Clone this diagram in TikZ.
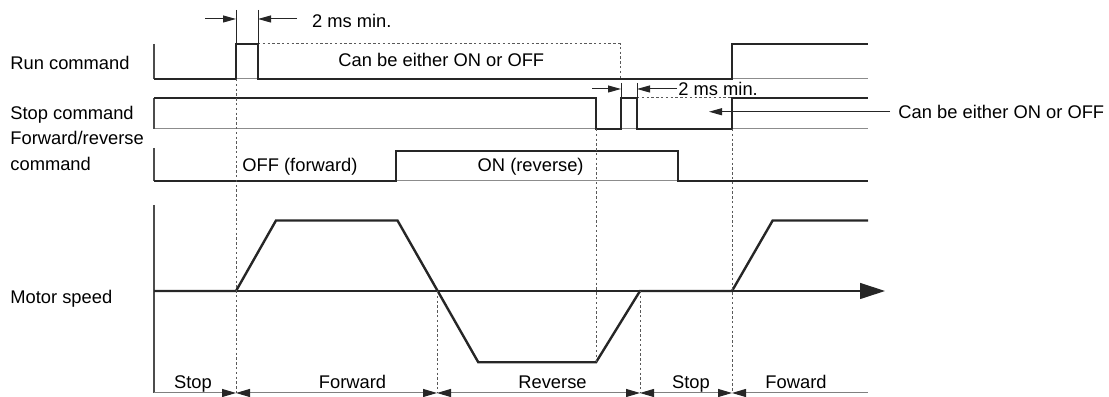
\documentclass[tikz,border=0pt]{standalone}
\usepackage{fontspec}
\setmainfont{Liberation Sans}
\usetikzlibrary{arrows.meta}

\begin{document}
\begin{tikzpicture}[
        x=0.5bp, y=-0.5bp,
        every node/.style={font=\fontsize{9.2}{13}\selectfont, inner sep=0pt},
        lbl/.style={anchor=base west},
        phaselbl/.style={anchor=base},
        signal/.style={line width=1.2bp, draw=black!85, line join=miter},
        base/.style={line width=0.5bp, draw=black!45},
        frame/.style={line width=0.6bp, draw=black!70},
        guide/.style={line width=0.5bp, draw=black!65, dash pattern=on 1.2bp off 1.2bp},
        dim/.style={line width=0.5bp, draw=black!85},
        tip/.style={-{Triangle[length=6.5bp, width=3.5bp]}},
        phase/.style={line width=0.5bp, draw=black!50, >={Triangle[length=7bp, width=4bp, color=black!85]}},
        axis/.style={line width=0.6bp, draw=black!85, -{Triangle[length=12.5bp, width=8bp]}}
    ]
        \useasboundingbox (0,0) rectangle (1109,397);

        % signal names
        \node[lbl] (run) at (10,69.5) {Run command};
        \node[lbl] (stop) at (10,120) {Stop command};
        \node[lbl] (fwdrev) at (10,144.5) {Forward/reverse};
        \node[lbl] (fwdrev2) at (10,170.5) {command};
        \node[lbl] (speed) at (10,304) {Motor speed};

        % run command
        \draw[base] (154,79) -- (868,79);
        \draw[frame] (154,44) -- (154,79);
        \draw[signal] (154,79) -- (236,79) -- (236,44) -- (258,44) -- (258,79) -- (732,79) -- (732,44) -- (868,44);
        \draw[guide] (258,44) -- (620,44) -- (620,79);
        \node[lbl] (eitherrun) at (338,66.7) {Can be either ON or OFF};

        % 2 ms min. (run)
        \draw[dim] (236,10) -- (236,44);
        \draw[dim] (258,10) -- (258,44);
        \draw[dim, tip] (205,19) -- (236,19);
        \draw[dim, tip] (297,19) -- (258,19);
        \node[lbl] (minrun) at (311.7,27.3) {2 ms min.};

        % stop command
        \draw[base] (154,129) -- (868,129);
        \draw[frame] (154,98) -- (154,129);
        \draw[signal] (154,98) -- (596,98) -- (596,129) -- (621,129) -- (621,98) -- (637,98) -- (637,129) -- (732,129) -- (732,98) -- (868,98);
        \draw[guide] (637,98) -- (732,98);

        % 2 ms min. (stop)
        \draw[dim] (621,83) -- (621,98);
        \draw[dim] (637,83) -- (637,98);
        \draw[dim, tip] (592,89) -- (621,89);
        \draw[dim, tip] (677,89) -- (637,89);
        \node[lbl] (minstop) at (678,95.3) {2 ms min.};

        \node[lbl] (eitherstop) at (898,118.3) {Can be either ON or OFF};
        \draw[dim, tip] ([xshift=-4bp]eitherstop.west) -- ++(-181,0);

        % forward/reverse command
        \draw[base] (154,181) -- (868,181);
        \draw[frame] (154,148) -- (154,181);
        \draw[signal] (154,181) -- (396,181) -- (396,151) -- (678,151) -- (678,181) -- (868,181);
        \node[lbl] (off) at (242,171.7) {OFF (forward)};
        \node[lbl] (on) at (477.3,171.7) {ON (reverse)};

        % motor speed
        \draw[frame] (154,205) -- (154,393);
        \draw[axis] (154,291) -- (885,291);
        \draw[signal] (154,291) -- (236,291) -- (276,220.5) -- (397.5,220.5) -- (478.3,362.3) -- (596,362.3)
            -- (640,291) -- (732,291) -- (772.7,220.5) -- (868,220.5);

        % timing guides
        \draw[guide] (236,79) -- (236,393);
        \draw[guide] (437,291) -- (437,393);
        \draw[guide] (596,129) -- (596,362.3);
        \draw[guide] (640,291) -- (640,393);
        \draw[guide] (732,129) -- (732,393);

        % operation phases
        \draw[phase, ->] (154,393) -- (236,393);
        \draw[phase, <->] (236,393) -- (437,393);
        \draw[phase, <->] (437,393) -- (640,393);
        \draw[phase, <->] (640,393) -- (732,393);
        \draw[phase, <-] (732,393) -- (868,393);
        \node[phaselbl] (ph1) at (193,388.3) {Stop};
        \node[phaselbl] (ph2) at (352.5,388.3) {Forward};
        \node[phaselbl] (ph3) at (552.5,388.3) {Reverse};
        \node[phaselbl] (ph4) at (691,388.3) {Stop};
        \node[phaselbl] (ph5) at (796,388.3) {Foward};
    \end{tikzpicture}
\end{document}
